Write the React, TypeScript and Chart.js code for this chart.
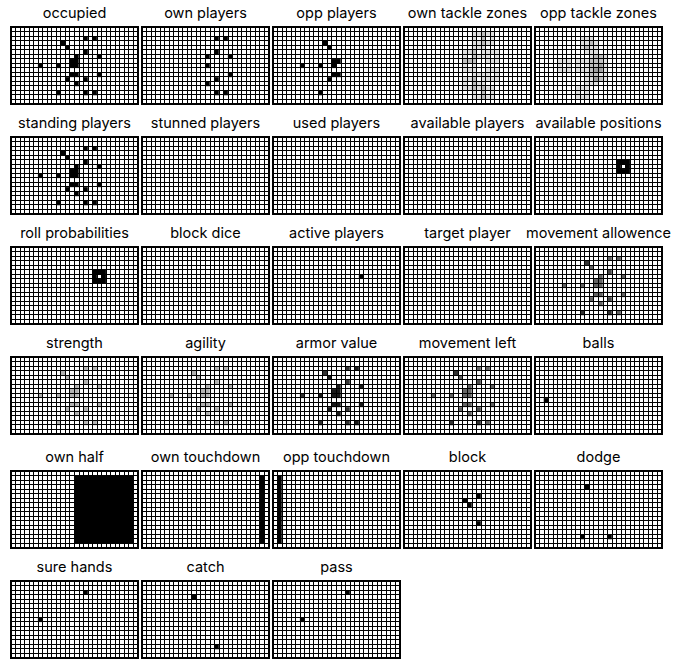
import React, { useEffect, useRef } from "react";
import { Chart, registerables } from "chart.js";
Chart.register(...registerables);

const N_COLS = 28;
const N_ROWS = 17;
const columnLabels = Array.from({ length: N_COLS }, (_, i) => String(i));

// [row, col]
const ownPlayers: [number, number][] = [
  [2, 16], [2, 18], [5, 16], [6, 14], [6, 19], [8, 14], [10, 19], [11, 16], [12, 14], [14, 16], [14, 18],
];
const oppPlayers: [number, number][] = [
  [3, 11], [4, 12], [7, 13], [7, 14], [8, 6], [8, 10], [8, 13], [10, 13], [10, 14], [11, 12], [14, 10],
];
const ownMA = [0.6, 0.6, 0.7, 0.6, 0.6, 0.6, 0.6, 0.7, 0.6, 0.8, 0.6];
const oppMA = [0.8, 0.6, 0.6, 0.6, 0.6, 0.6, 0.6, 0.6, 0.6, 0.6, 0.8];
const ownST = [0.3, 0.3, 0.3, 0.3, 0.3, 0.3, 0.3, 0.3, 0.3, 0.3, 0.3];
const oppST = [0.3, 0.3, 0.3, 0.3, 0.3, 0.3, 0.3, 0.3, 0.3, 0.3, 0.3];
const ownAG = [0.3, 0.3, 0.3, 0.3, 0.3, 0.3, 0.3, 0.3, 0.3, 0.3, 0.3];
const oppAG = [0.3, 0.3, 0.3, 0.3, 0.3, 0.3, 0.3, 0.3, 0.3, 0.3, 0.3];
const ownAV = [0.8, 0.9, 0.8, 0.9, 0.9, 0.9, 0.9, 0.8, 0.9, 0.8, 0.9];
const oppAV = [0.8, 0.9, 0.9, 0.9, 0.8, 0.9, 0.9, 0.9, 0.9, 0.9, 0.8];
const ownML = [0.6, 0.6, 0.7, 0.6, 0.6, 0.6, 0.6, 0.7, 0.6, 0.8, 0.6];
const oppML = [0.8, 0.6, 0.6, 0.6, 0.6, 0.6, 0.6, 0.6, 0.6, 0.6, 0.8];

const activePlayer: [number, number][] = [[6, 19]];
const availablePositions: [number, number][] = [
  [5, 18], [5, 19], [5, 20], [6, 18], [6, 20], [7, 18], [7, 19], [7, 20],
];
const rollProbabilities: [number, number][] = availablePositions;
const ballCells: [number, number][] = [[9, 2]];
const blockCells: [number, number][] = [[6, 13], [7, 14], [5, 16], [11, 16]];
const dodgeCells: [number, number][] = [[3, 11], [14, 10], [14, 16]];
const sureHandsCells: [number, number][] = [[2, 16], [8, 6]];
const catchCells: [number, number][] = [[3, 11], [14, 16]];
const passCells: [number, number][] = [[2, 16], [8, 6]];
const ownHalfCols = [14, 26];
const fieldRows = [1, 15];
const ownTouchdownCol = 26;
const oppTouchdownCol = 1;

const titles = [
  "occupied", "own players", "opp players", "own tackle zones", "opp tackle zones",
  "standing players", "stunned players", "used players", "available players", "available positions",
  "roll probabilities", "block dice", "active players", "target player", "movement allowence",
  "strength", "agility", "armor value", "movement left", "balls",
  "own half", "own touchdown", "opp touchdown", "block", "dodge",
  "sure hands", "catch", "pass",
];

function emptyGrid(): number[][] {
  return Array.from({ length: N_ROWS }, () => Array(N_COLS).fill(0));
}
function fromCells(cells: [number, number][], values?: number[]): number[][] {
  const g = emptyGrid();
  cells.forEach(([r, c], i) => { g[r][c] = values ? values[i] : 1; });
  return g;
}
function tackleZones(cells: [number, number][]): number[][] {
  const g = emptyGrid();
  cells.forEach(([r, c]) => {
    for (let dr = -1; dr <= 1; dr++) for (let dc = -1; dc <= 1; dc++) {
      if (dr === 0 && dc === 0) continue;
      const rr = r + dr, cc = c + dc;
      if (rr >= 0 && rr < N_ROWS && cc >= 0 && cc < N_COLS) g[rr][cc] += 0.125;
    }
  });
  return g;
}
function rect(r0: number, r1: number, c0: number, c1: number): number[][] {
  const g = emptyGrid();
  for (let r = r0; r <= r1; r++) for (let c = c0; c <= c1; c++) g[r][c] = 1;
  return g;
}

const allPlayers = [...ownPlayers, ...oppPlayers];
const grids: number[][][] = [
  fromCells(allPlayers),
  fromCells(ownPlayers),
  fromCells(oppPlayers),
  tackleZones(ownPlayers),
  tackleZones(oppPlayers),
  fromCells(allPlayers),
  emptyGrid(),
  emptyGrid(),
  emptyGrid(),
  fromCells(availablePositions),
  fromCells(rollProbabilities),
  emptyGrid(),
  fromCells(activePlayer),
  emptyGrid(),
  fromCells(allPlayers, [...ownMA, ...oppMA]),
  fromCells(allPlayers, [...ownST, ...oppST]),
  fromCells(allPlayers, [...ownAG, ...oppAG]),
  fromCells(allPlayers, [...ownAV, ...oppAV]),
  fromCells(allPlayers, [...ownML, ...oppML]),
  fromCells(ballCells),
  rect(fieldRows[0], fieldRows[1], ownHalfCols[0], ownHalfCols[1]),
  rect(fieldRows[0], fieldRows[1], ownTouchdownCol, ownTouchdownCol),
  rect(fieldRows[0], fieldRows[1], oppTouchdownCol, oppTouchdownCol),
  fromCells(blockCells),
  fromCells(dodgeCells),
  fromCells(sureHandsCells),
  fromCells(catchCells),
  fromCells(passCells),
];

const PANEL_W = 127;
const PANEL_H = 77;
const LEFTS = [11, 142, 273, 404, 535];
const TOPS = [27, 137, 247, 357, 471, 581];

const shade = (v: number) => {
  const g = Math.round(255 * (1 - Math.max(0, Math.min(1, v))));
  return `rgb(${g},${g},${g})`;
};

const framePlugin = {
  id: "frame",
  afterDraw(chart: any) {
    const { ctx, chartArea } = chart;
    ctx.save();
    ctx.strokeStyle = "#000";
    ctx.lineWidth = 2;
    ctx.strokeRect(chartArea.left, chartArea.top, chartArea.right - chartArea.left, chartArea.bottom - chartArea.top);
    ctx.restore();
  },
};

function Panel({ title, grid, left, top }: { title: string; grid: number[][]; left: number; top: number }) {
  const ref = useRef<HTMLCanvasElement>(null);
  useEffect(() => {
    const datasets = grid.map((row, r) => ({
      label: `row ${r}`,
      data: row.map(() => 1),
      backgroundColor: row.map(shade),
      borderWidth: 0,
      barPercentage: 1,
      categoryPercentage: 1,
    }));
    const gridOpts = { color: "#000", lineWidth: 1, z: 1, drawTicks: false };
    const chart = new Chart(ref.current as HTMLCanvasElement, {
      type: "bar",
      data: { labels: columnLabels, datasets },
      options: {
        animation: false,
        responsive: false,
        events: [],
        layout: { padding: 1 },
        plugins: { legend: { display: false }, tooltip: { enabled: false }, title: { display: false } },
        scales: {
          x: {
            stacked: true,
            grid: { ...gridOpts, offset: true },
            border: { display: false },
            ticks: { display: false, autoSkip: false },
            afterFit: (s: any) => { s.height = 0; },
          },
          y: {
            stacked: true,
            reverse: true,
            min: 0,
            max: N_ROWS,
            grid: gridOpts,
            border: { display: false },
            ticks: { display: false, stepSize: 1, maxTicksLimit: 100 },
            afterFit: (s: any) => { s.width = 0; },
          },
        },
      } as any,
      plugins: [framePlugin],
    });
    return () => chart.destroy();
  }, [grid]);
  return (
    <>
      <div
        style={{
          position: "absolute", left: left - 15, width: PANEL_W + 30, top: top - 23,
          textAlign: "center", fontFamily: "Inter, 'Noto Sans', sans-serif", fontSize: 14.5, lineHeight: "17px",
          color: "#000", whiteSpace: "nowrap",
        }}
      >
        {title}
      </div>
      <canvas
        ref={ref}
        width={PANEL_W + 2}
        height={PANEL_H + 2}
        style={{ position: "absolute", left: left - 1, top: top - 1, width: PANEL_W + 2, height: PANEL_H + 2 }}
      />
    </>
  );
}

export default function App() {
  return (
    <div style={{ position: "absolute", left: 0, top: 0, width: 694, height: 665, background: "#fff" }}>
      {titles.map((t, i) => (
        <Panel key={t} title={t} grid={grids[i]} left={LEFTS[i % 5]} top={TOPS[Math.floor(i / 5)]} />
      ))}
    </div>
  );
}
